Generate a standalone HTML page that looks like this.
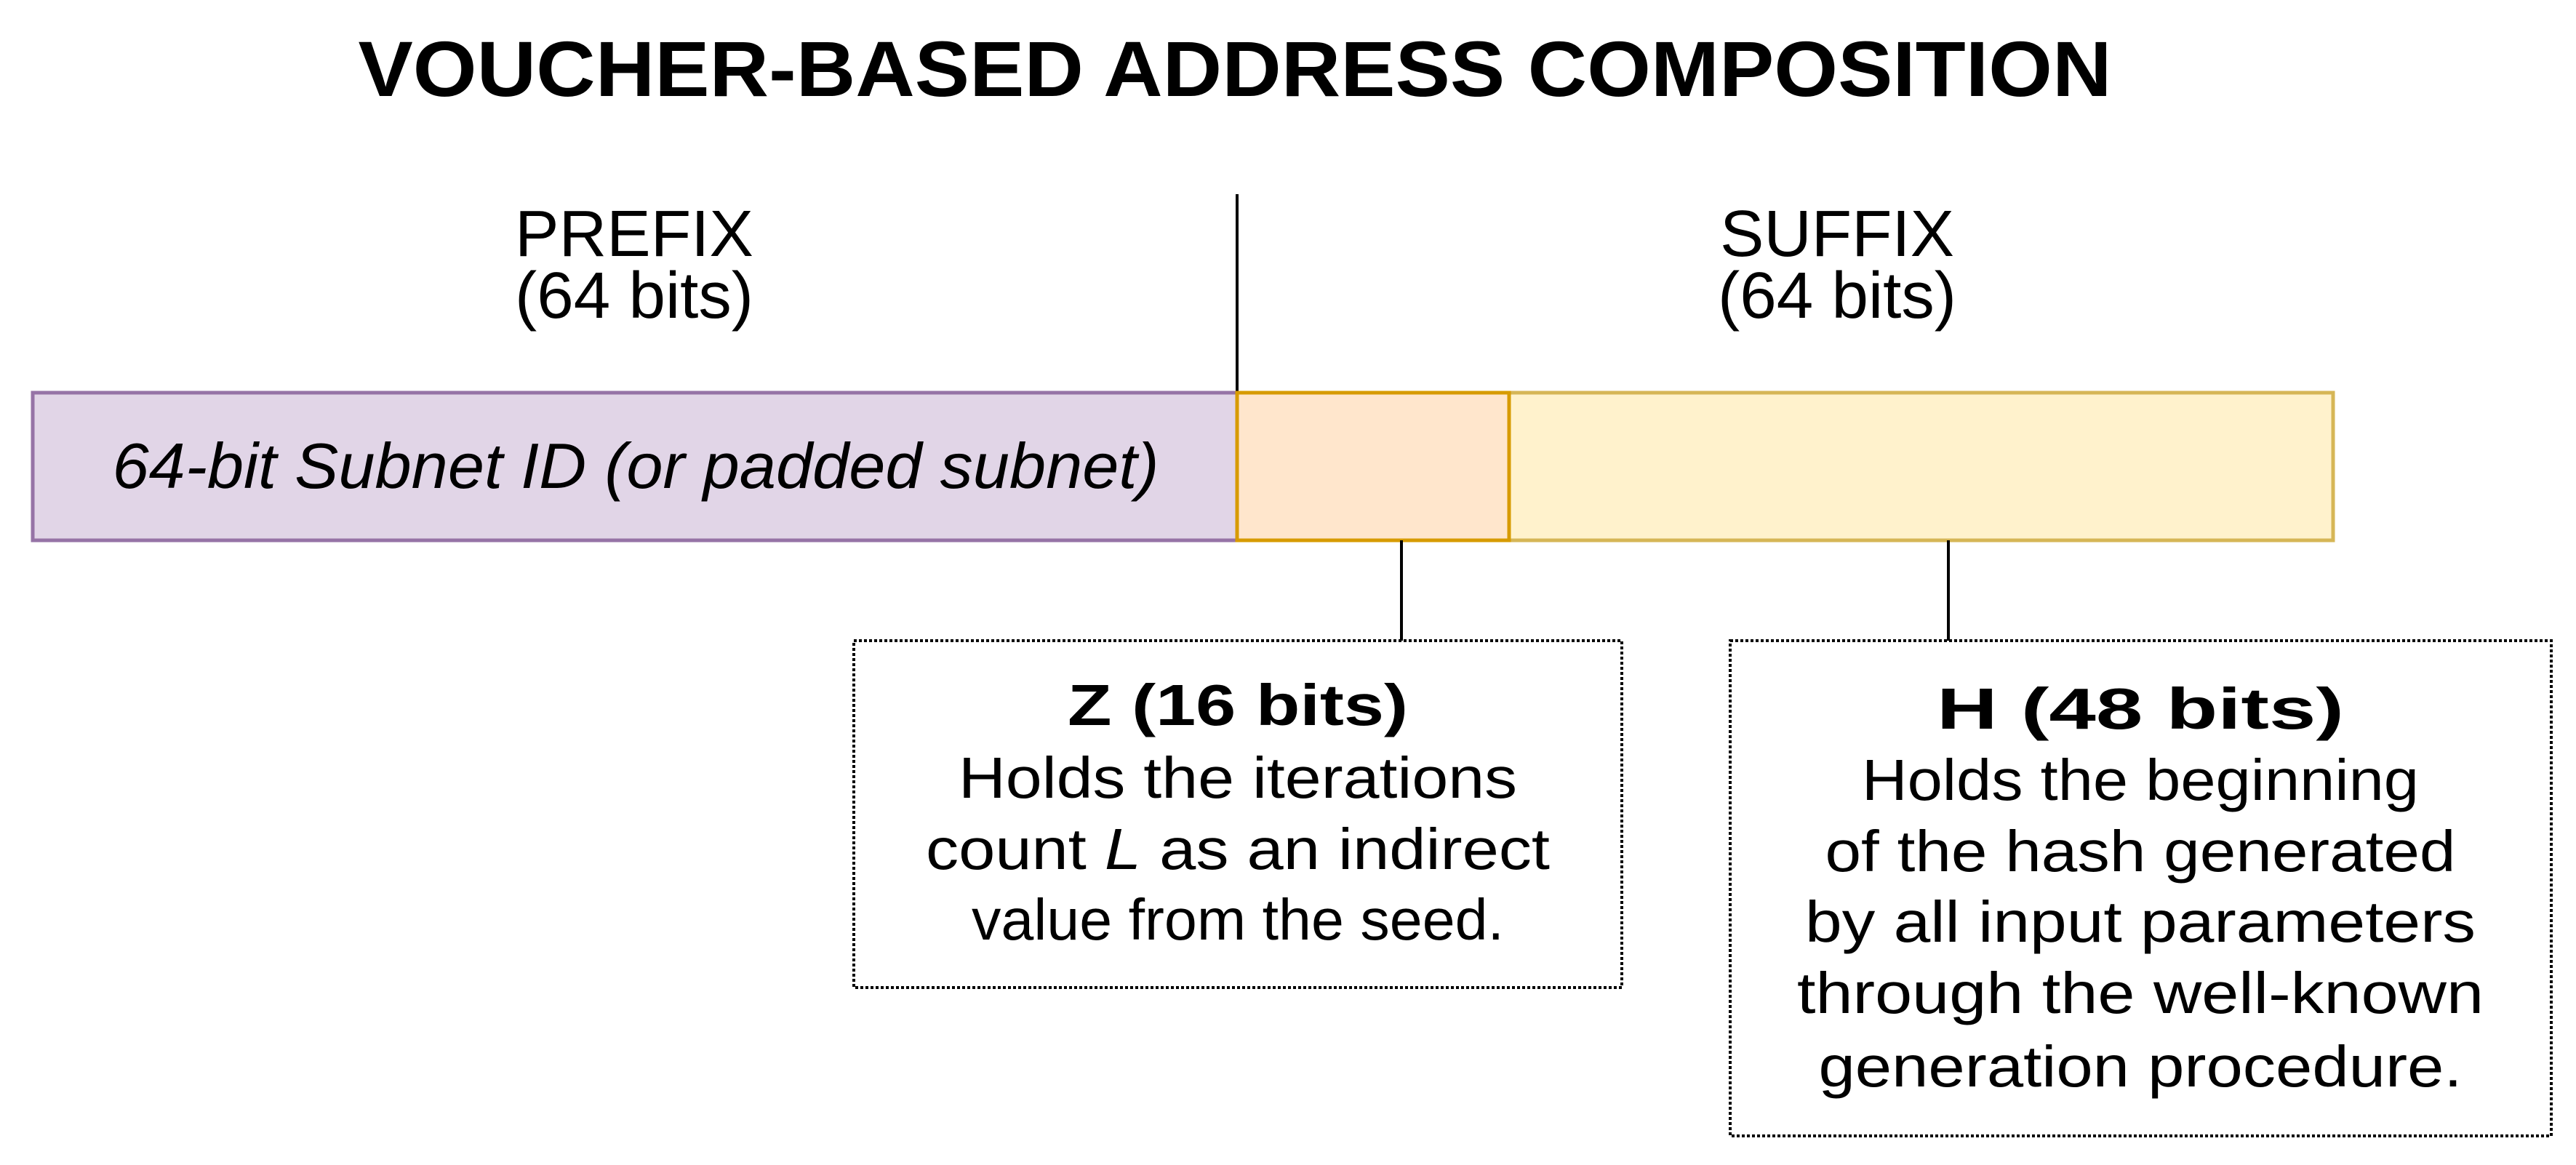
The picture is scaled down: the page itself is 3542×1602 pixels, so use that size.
<!DOCTYPE html>
<html><head><meta charset="utf-8"><style>
html,body{margin:0;padding:0;background:#fff;width:3542px;height:1602px;overflow:hidden}
svg text{font-family:"Liberation Sans",Arial,sans-serif;fill:#000}
</style></head><body>
<svg width="3542" height="1602" viewBox="0 0 3542 1602" xmlns="http://www.w3.org/2000/svg">
<text x="1698" y="132" font-size="108" font-weight="bold" text-anchor="middle" textLength="2411" lengthAdjust="spacingAndGlyphs">VOUCHER-BASED ADDRESS COMPOSITION</text>
<line x1="1701" y1="267" x2="1701" y2="540" stroke="#000" stroke-width="4"/>
<g font-size="90" text-anchor="middle">
<text x="872" y="352" textLength="328" lengthAdjust="spacingAndGlyphs">PREFIX</text>
<text x="872" y="437" textLength="328" lengthAdjust="spacingAndGlyphs">(64 bits)</text>
<text x="2526" y="352" textLength="322" lengthAdjust="spacingAndGlyphs">SUFFIX</text>
<text x="2526" y="437" textLength="328" lengthAdjust="spacingAndGlyphs">(64 bits)</text>
</g>
<rect x="45" y="540" width="1656" height="203" fill="#e1d5e7" stroke="#9673a6" stroke-width="5"/>
<rect x="2075" y="540" width="1133" height="203" fill="#fff2cc" stroke="#d6b656" stroke-width="5"/>
<rect x="1701" y="540" width="374" height="203" fill="#ffe6cc" stroke="#d79b00" stroke-width="5"/>
<text x="874" y="671" font-size="88" font-style="italic" text-anchor="middle" textLength="1439" lengthAdjust="spacingAndGlyphs">64-bit Subnet ID (or padded subnet)</text>
<line x1="1927" y1="743" x2="1927" y2="881" stroke="#000" stroke-width="4"/>
<line x1="2679" y1="743" x2="2679" y2="881" stroke="#000" stroke-width="4"/>
<rect x="1174" y="881" width="1056" height="477" fill="#fff" stroke="#000" stroke-width="4" stroke-dasharray="4 3"/>
<rect x="2379" y="881" width="1129" height="681" fill="#fff" stroke="#000" stroke-width="4" stroke-dasharray="4 3"/>
<g font-size="80" text-anchor="middle" lengthAdjust="spacingAndGlyphs">
<text x="1702" y="997" font-weight="bold" textLength="468" lengthAdjust="spacingAndGlyphs">Z (16 bits)</text>
<text x="1702" y="1097" textLength="768" lengthAdjust="spacingAndGlyphs">Holds the iterations</text>
<text x="1702" y="1195" textLength="858" lengthAdjust="spacingAndGlyphs">count <tspan font-style="italic">L</tspan> as an indirect</text>
<text x="1702" y="1292" textLength="732" lengthAdjust="spacingAndGlyphs">value from the seed.</text>
<text x="2943" y="1002" font-weight="bold" textLength="560" lengthAdjust="spacingAndGlyphs">H (48 bits)</text>
<text x="2943" y="1100" textLength="766" lengthAdjust="spacingAndGlyphs">Holds the beginning</text>
<text x="2943" y="1198" textLength="867" lengthAdjust="spacingAndGlyphs">of the hash generated</text>
<text x="2943" y="1295" textLength="922" lengthAdjust="spacingAndGlyphs">by all input parameters</text>
<text x="2943" y="1393" textLength="944" lengthAdjust="spacingAndGlyphs">through the well-known</text>
<text x="2943" y="1494" textLength="885" lengthAdjust="spacingAndGlyphs">generation procedure.</text>
</g>
</svg>
</body></html>
